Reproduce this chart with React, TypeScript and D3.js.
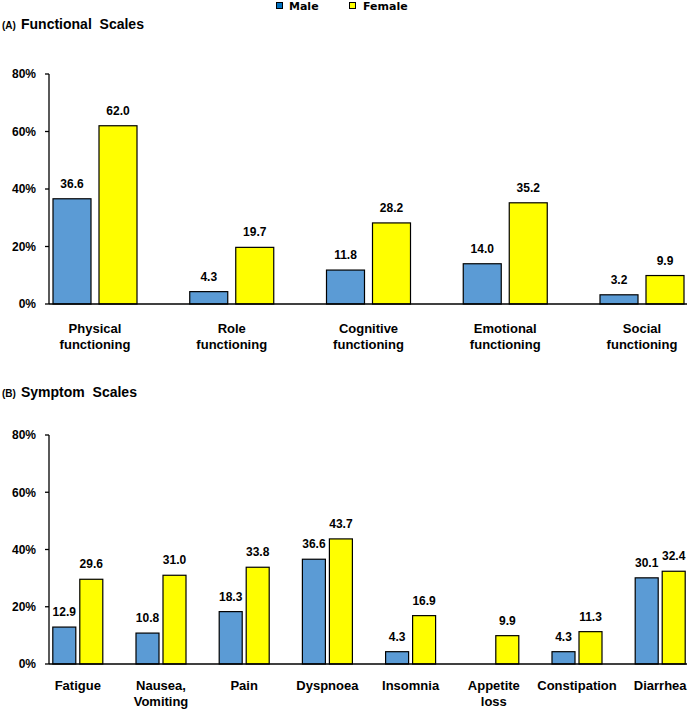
import React from "react";
import * as d3 from "d3";

const seriesNames = ["Male", "Female"];

const functionalCategories = [
  ["Physical", "functioning"],
  ["Role", "functioning"],
  ["Cognitive", "functioning"],
  ["Emotional", "functioning"],
  ["Social", "functioning"],
];
const functionalMale: (number | null)[] = [36.6, 4.3, 11.8, 14.0, 3.2];
const functionalFemale: (number | null)[] = [62.0, 19.7, 28.2, 35.2, 9.9];

const symptomCategories = [
  ["Fatigue"],
  ["Nausea,", "Vomiting"],
  ["Pain"],
  ["Dyspnoea"],
  ["Insomnia"],
  ["Appetite", "loss"],
  ["Constipation"],
  ["Diarrhea"],
];
const symptomMale: (number | null)[] = [12.9, 10.8, 18.3, 36.6, 4.3, null, 4.3, 30.1];
const symptomFemale: (number | null)[] = [29.6, 31.0, 33.8, 43.7, 16.9, 9.9, 11.3, 32.4];

const yTicks = [0, 20, 40, 60, 80];

const FONT = "'Liberation Sans', Arial, sans-serif";
const LEGEND_FONT = "'DejaVu Sans', Verdana, sans-serif";
const COLORS = ["#5B9BD5", "#FFFF00"];

type PanelProps = {
  title: string;
  letter: string;
  titleY: number;
  categories: string[][];
  male: (number | null)[];
  female: (number | null)[];
  yTop: number;
  yBottom: number;
  firstCenter: number;
  step: number;
  barW: number;
  barGap: number;
  labelY: number;
  lineH: number;
};

function Panel(p: PanelProps) {
  const names = p.categories.map((c) => c.join(" "));
  const x0 = d3
    .scaleBand()
    .domain(names)
    .range([p.firstCenter - p.step / 2, p.firstCenter - p.step / 2 + p.step * names.length])
    .paddingInner(0)
    .paddingOuter(0);
  const pairW = p.barW * 2 + p.barGap;
  const x1 = d3
    .scaleBand()
    .domain(seriesNames)
    .range([0, pairW])
    .paddingInner(p.barGap / (p.barW + p.barGap))
    .paddingOuter(0);
  const y = d3.scaleLinear().domain([0, 80]).range([p.yBottom, p.yTop]);
  const axisX = 49;
  const axisRight = 687;
  const values = [p.male, p.female];

  return (
    <g>
      <text x={2} y={p.titleY} fontFamily={FONT} fontWeight="bold" fontSize={10} fill="#000">
        {p.letter}
      </text>
      <text
        x={21}
        y={p.titleY}
        fontFamily={FONT}
        fontWeight="bold"
        fontSize={14}
        fill="#000"
        style={{ whiteSpace: "pre" }}
      >
        {p.title}
      </text>
      {names.map((n, i) => {
        const start = (x0(n) as number) + x0.bandwidth() / 2 - pairW / 2;
        return (
          <g key={n}>
            {seriesNames.map((s, si) => {
              const v = values[si][i];
              if (v === null || v === undefined) return null;
              const bx = start + (x1(s) as number);
              return (
                <g key={s}>
                  <rect
                    x={bx}
                    y={y(v)}
                    width={x1.bandwidth()}
                    height={y(0) - y(v)}
                    fill={COLORS[si]}
                    stroke="#000"
                    strokeWidth={1.2}
                  />
                  <text
                    x={bx + x1.bandwidth() / 2}
                    y={y(v) - 11}
                    textAnchor="middle"
                    fontFamily={FONT}
                    fontWeight="bold"
                    fontSize={12}
                    fill="#000"
                  >
                    {v.toFixed(1)}
                  </text>
                </g>
              );
            })}
            {p.categories[i].map((line, li) => (
              <text
                key={li}
                x={(x0(n) as number) + x0.bandwidth() / 2}
                y={p.labelY + li * p.lineH}
                textAnchor="middle"
                fontFamily={FONT}
                fontWeight="bold"
                fontSize={13}
                fill="#000"
              >
                {line}
              </text>
            ))}
          </g>
        );
      })}
      <line x1={axisX} x2={axisX} y1={y(80)} y2={y(0)} stroke="#000" strokeWidth={1.3} />
      {yTicks.map((t) => (
        <g key={t}>
          <line x1={axisX - 4} x2={axisX} y1={y(t)} y2={y(t)} stroke="#000" strokeWidth={1.3} />
          <text
            x={axisX - 13}
            y={y(t)}
            dy="0.36em"
            textAnchor="end"
            fontFamily={FONT}
            fontWeight="bold"
            fontSize={12}
            fill="#000"
          >
            {t + "%"}
          </text>
        </g>
      ))}
      <line x1={axisX} x2={axisRight} y1={y(0)} y2={y(0)} stroke="#000" strokeWidth={1.3} />
    </g>
  );
}

export default function App() {
  return (
    <div style={{ position: "absolute", left: 0, top: 0 }}>
      <svg width={692} height={709} style={{ display: "block", background: "#fff" }}>
        <rect x={0} y={0} width={692} height={709} fill="#fff" />
        <rect x={276.5} y={2.5} width={6} height={6} fill="#0070C0" stroke="#000" strokeWidth={1} />
        <text x={289} y={10} fontFamily={LEGEND_FONT} fontWeight="bold" fontSize={11} fill="#000">
          {seriesNames[0]}
        </text>
        <rect x={349.5} y={2.5} width={6} height={6} fill="#FFFF00" stroke="#000" strokeWidth={1} />
        <text x={363} y={10} fontFamily={LEGEND_FONT} fontWeight="bold" fontSize={11} fill="#000">
          {seriesNames[1]}
        </text>
        <Panel
          title="Functional  Scales"
          letter="(A)"
          titleY={29}
          categories={functionalCategories}
          male={functionalMale}
          female={functionalFemale}
          yTop={74}
          yBottom={304}
          firstCenter={95}
          step={136.75}
          barW={38}
          barGap={8}
          labelY={333}
          lineH={15.5}
        />
        <Panel
          title="Symptom  Scales"
          letter="(B)"
          titleY={397}
          categories={symptomCategories}
          male={symptomMale}
          female={symptomFemale}
          yTop={435}
          yBottom={664}
          firstCenter={77.8}
          step={83.2}
          barW={23}
          barGap={4}
          labelY={690}
          lineH={16}
        />
      </svg>
    </div>
  );
}
